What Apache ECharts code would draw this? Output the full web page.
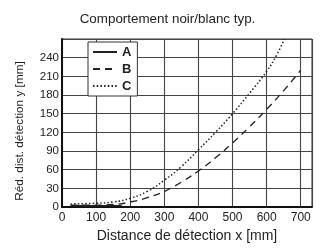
<!DOCTYPE html>
<html>
<head>
<meta charset="utf-8">
<script src="https://cdn.jsdelivr.net/npm/echarts@6/dist/echarts.min.js"></script>
<style>
  html, body { margin: 0; padding: 0; background: #fff; }
  #chart { width: 335px; height: 248px; }
</style>
</head>
<body>
<div id="chart"></div>
<script>
const titleText = "Comportement noir/blanc typ.";
const xName = "Distance de détection x [mm]";
const yName = "Réd. dist. détection y [mm]";

const seriesNames = ["A", "B", "C"];
// [x mm, y mm]
const dataA = [[25, 2], [60, 2], [100, 2], [140, 2], [175, 2]];
const dataB = [[25, 3], [100, 3], [150, 4], [200, 8], [250, 15], [300, 25],
  [350, 40], [400, 58], [450, 79], [500, 103], [550, 129], [600, 157], [650, 187], [700, 220]];
const dataC = [[25, 5], [100, 6], [150, 8], [200, 14], [250, 25], [300, 43],
  [350, 65], [400, 92], [450, 120], [500, 150], [550, 183], [600, 218], [630, 245], [652, 270]];

const font = "'Liberation Sans', Arial, sans-serif";
const chart = echarts.init(document.getElementById("chart"));

const lineStyles = [
  { type: "solid", width: 1.3 },
  { type: [7, 5], width: 1.3 },
  { type: [1.5, 2.2], width: 1.5 }
];

chart.setOption({
  animation: false,
  textStyle: { fontFamily: font },
  title: {
    text: titleText,
    left: "center",
    top: 8,
    textStyle: { fontSize: 13.4, fontWeight: "normal", color: "#222", fontFamily: font }
  },
  legend: {
    orient: "vertical",
    left: 88,
    top: 42,
    itemWidth: 24,
    itemHeight: 10,
    itemGap: 3,
    padding: [3, 6, 3, 4],
    borderColor: "#333",
    borderWidth: 1,
    backgroundColor: "#fff",
    itemStyle: { opacity: 0 },
    textStyle: { fontSize: 13, fontWeight: "bold", color: "#222", lineHeight: 14, fontFamily: font },
    data: seriesNames
  },
  grid: { left: 62, right: 23, top: 39, bottom: 39, show: true, borderColor: "#333", borderWidth: 1 },
  xAxis: {
    type: "value",
    min: 0,
    max: 733,
    interval: 100,
    name: xName,
    nameLocation: "middle",
    nameGap: 22,
    nameTextStyle: { fontSize: 14, color: "#222" },
    axisLine: { lineStyle: { color: "#111", width: 2 } },
    axisTick: { show: false },
    axisLabel: { fontSize: 12, color: "#222", margin: 5, showMaxLabel: false },
    splitLine: { lineStyle: { color: "#444", width: 1.1 } }
  },
  yAxis: {
    type: "value",
    min: 0,
    max: 270,
    interval: 30,
    name: yName,
    nameLocation: "middle",
    nameGap: 36,
    nameTextStyle: { fontSize: 11.8, color: "#222", padding: [0, 16, 0, 0] },
    axisLine: { show: true, lineStyle: { color: "#111", width: 2 } },
    axisTick: { show: false },
    axisLabel: { fontSize: 11.5, color: "#222", margin: 3, showMaxLabel: false },
    splitLine: { lineStyle: { color: "#444", width: 1.1 } }
  },
  series: [dataA, dataB, dataC].map((d, i) => ({
    name: seriesNames[i],
    type: "line",
    data: d,
    smooth: true,
    symbol: "none",
    clip: true,
    lineStyle: Object.assign({ color: "#222" }, lineStyles[i]),
    itemStyle: { color: "#222" }
  }))
});
</script>
</body>
</html>
